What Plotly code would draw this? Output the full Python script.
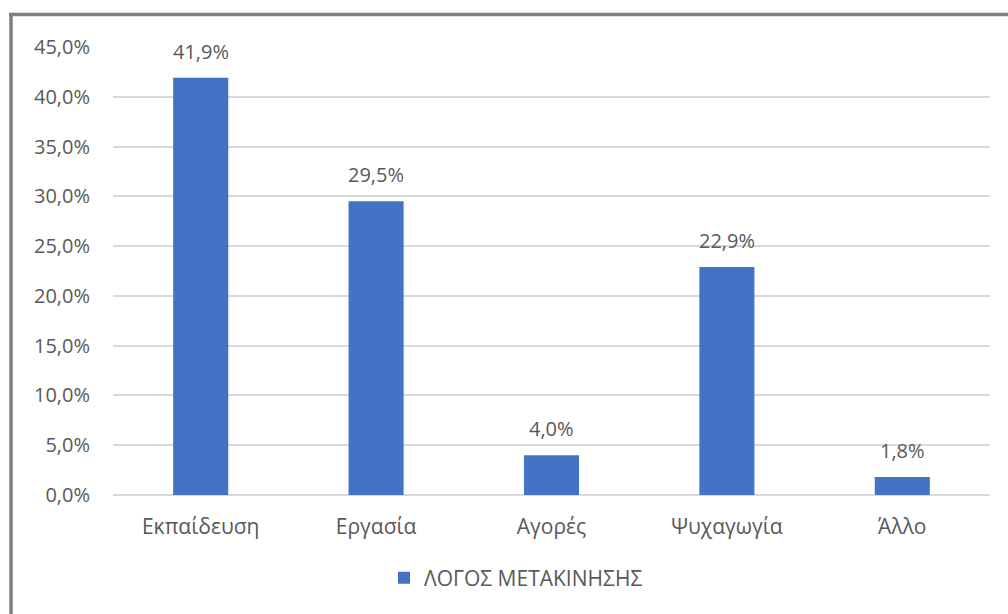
import plotly.graph_objects as go

categories = ["Εκπαίδευση", "Εργασία", "Αγορές", "Ψυχαγωγία", "Άλλο"]
shares = [0.419, 0.295, 0.040, 0.229, 0.018]
series_name = "ΛΟΓΟΣ ΜΕΤΑΚΙΝΗΣΗΣ"

BAR = "#4472C4"
TXT = "#595959"
GRID = "#D9D9D9"
FONT = "Open Sans"

W, H = 1008, 614
L, R, T, B = 113, 18, 47, 119
pw, ph = W - L - R, H - T - B


def px_x(p):
    return (p - L) / pw


def px_y(p):
    return (H - B - p) / ph


fig = go.Figure()
fig.add_trace(go.Bar(
    x=categories, y=shares, name=series_name,
    marker=dict(color=BAR, line=dict(width=0)),
    showlegend=True,
))

# value labels above each bar
for c, v in zip(categories, shares):
    fig.add_annotation(
        x=c, y=v, xref="x", yref="y",
        text=f"{v*100:.1f}%".replace(".", ","),
        showarrow=False, yanchor="bottom", yshift=11,
        font=dict(family=FONT, size=20, color=TXT),
    )

# chart frame (left and top edges)
frame = "#7F7F7F"
fig.add_shape(type="line", xref="paper", yref="paper",
              x0=px_x(11), x1=px_x(11), y0=px_y(13), y1=px_y(H + 5),
              line=dict(color=frame, width=3.5))
fig.add_shape(type="line", xref="paper", yref="paper",
              x0=px_x(9), x1=px_x(W + 5), y0=px_y(14.5), y1=px_y(14.5),
              line=dict(color=frame, width=3.5))

fig.update_layout(
    width=W, height=H,
    margin=dict(l=L, r=R, t=T, b=B, pad=0),
    paper_bgcolor="white", plot_bgcolor="white",
    separators=",.",
    bargap=0.686,
    font=dict(family=FONT, size=20, color=TXT),
    legend=dict(
        orientation="h", x=px_x(516), xanchor="center",
        y=px_y(578), yanchor="middle",
        font=dict(family=FONT, size=21, color=TXT),
        itemwidth=30,
    ),
    xaxis=dict(
        showgrid=False, showline=False, ticks="",
        tickfont=dict(family=FONT, size=21, color=TXT),
        ticklabelstandoff=17,
    ),
    yaxis=dict(
        range=[0, 0.45], dtick=0.05, tickformat=".1%",
        showgrid=True, gridcolor=GRID, gridwidth=1.5,
        zeroline=True, zerolinecolor=GRID, zerolinewidth=1.5,
        showline=False, ticks="",
        tickfont=dict(family=FONT, size=20, color=TXT),
        ticklabelstandoff=22,
    ),
)

fig.write_html("out.html")
